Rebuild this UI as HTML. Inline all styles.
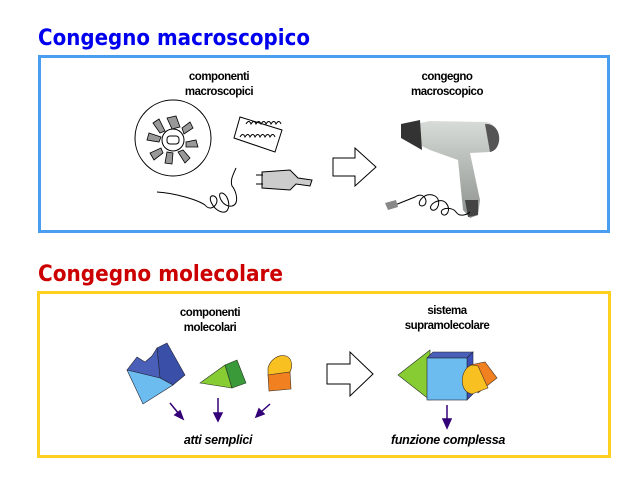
<!DOCTYPE html>
<html><head><meta charset="utf-8"><style>
html,body{margin:0;padding:0;background:#fff;}
svg{display:block;}
.t{font-family:"DejaVu Sans","Liberation Sans",sans-serif;font-size:22px;font-weight:bold;}
.l{font-family:"Liberation Sans",sans-serif;font-size:11.5px;font-weight:bold;text-anchor:middle;letter-spacing:-0.5px;}
.i{font-family:"Liberation Sans",sans-serif;font-size:12.5px;font-weight:bold;font-style:italic;text-anchor:middle;letter-spacing:-0.3px;}
</style></head><body>
<svg width="640" height="480" viewBox="0 0 640 480" xmlns="http://www.w3.org/2000/svg">
<text class="t" x="38" y="45" fill="#0000ee" textLength="272" lengthAdjust="spacingAndGlyphs">Congegno macroscopico</text>
<rect x="39.5" y="56.5" width="569" height="175" fill="none" stroke="#4a9ef0" stroke-width="3"/>
<text class="l" x="219" y="80">componenti</text>
<text class="l" x="219" y="95">macroscopici</text>
<text class="l" x="447" y="80">congegno</text>
<text class="l" x="447" y="95">macroscopico</text>
<!-- fan -->
<circle cx="173" cy="138" r="38" fill="#fff" stroke="#000" stroke-width="1"/>
<circle cx="173" cy="140" r="11" fill="#fff" stroke="#000"/>
<rect x="167" y="136" width="12" height="8" rx="3" fill="none" stroke="#000"/>
<g fill="#999" stroke="#000" stroke-width="0.8">
<polygon points="167,118 176,116 180,127 172,129"/>
<polygon points="190,122 193,128 184,134 182,128"/>
<polygon points="196,140 198,147 186,147 186,142"/>
<polygon points="190,158 185,163 178,152 183,150"/>
<polygon points="172,164 165,163 167,152 173,153"/>
<polygon points="154,160 150,153 161,148 163,153"/>
<polygon points="147,140 149,133 161,137 159,142"/>
<polygon points="153,123 159,119 165,131 160,133"/>
</g>
<!-- heater coil -->
<g fill="none" stroke="#000" stroke-width="1">
<polygon points="240,117 282,130 275,152 234,138"/>
<path d="M246,124 q3,-5 5,0 q3,-5 5,0 q3,-5 5,0 q3,-5 5,0 q3,-5 5,0 q3,-5 5,0 q3,-5 5,0"/>
<path d="M240,137 q3,-5 5,0 q3,-5 5,0 q3,-5 5,0 q3,-5 5,0 q3,-5 5,0 q3,-5 5,0 q3,-5 5,0"/>
<path d="M157,192 C175,193 198,200 205,205 C212,214 222,200 214,196 C206,194 212,210 222,212 C232,214 230,195 222,193 C216,192 222,208 232,206 C240,204 236,190 232,186 C230,180 233,175 236,168"/>
</g>
<!-- plug -->
<g stroke="#000" stroke-width="1">
<path d="M262,172 L290,170 L298,178 L312,180 L310,186 L296,184 L290,190 L262,188 Z" fill="#ccc"/>
<line x1="256" y1="175" x2="263" y2="175"/><line x1="256" y1="184" x2="263" y2="184"/>
</g>
<!-- hollow arrow 1 -->
<polygon points="333,158 355,158 355,148 376,167 355,186 355,176 333,176" fill="#fff" stroke="#000" stroke-width="1"/>
<!-- hair dryer -->
<defs><linearGradient id="g" x1="0" y1="0" x2="0" y2="1"><stop offset="0" stop-color="#d8dcd8"/><stop offset="1" stop-color="#8e928e"/></linearGradient></defs>
<path d="M405,126 L430,121 L485,122 C500,122 502,148 490,152 L470,153 L480,200 L478,215 L470,218 L463,210 L458,160 L430,150 L405,138 Z" fill="url(#g)"/>
<path d="M401,124 L420,120 L422,150 L401,138 Z" fill="#333"/>
<path d="M485,124 C503,123 503,150 490,152 Z" fill="#555"/>
<path d="M465,200 L478,200 L478,215 L468,217 Z" fill="#444"/>
<path d="M395,205 L415,197 C425,190 430,205 422,206 C414,205 425,190 435,196 C442,200 438,212 432,210 C426,206 440,196 446,203 C452,210 446,218 442,214 C438,208 452,206 456,212 C460,218 468,214 470,212" fill="none" stroke="#000" stroke-width="1"/>
<path d="M385,203 L396,200 L398,207 L388,210 Z" fill="#888"/>
<!-- section 2 -->
<text class="t" x="38" y="281" fill="#cc0000" textLength="245" lengthAdjust="spacingAndGlyphs">Congegno molecolare</text>
<rect x="38.5" y="292.5" width="571" height="164" fill="none" stroke="#ffd020" stroke-width="3"/>
<text class="l" x="210" y="316">componenti</text>
<text class="l" x="210" y="331">molecolari</text>
<text class="l" x="447" y="314">sistema</text>
<text class="l" x="447" y="329">supramolecolare</text>
<!-- blue block -->
<polygon points="157,348 167,343 185,375 173,385 160,378" fill="#3a4fa8" stroke="#223" stroke-width="0.6"/>
<polygon points="127,370 137,357 145,362 152,356 157,348 160,378" fill="#4a5fb8" stroke="#223" stroke-width="0.6"/>
<polygon points="127,370 160,378 173,385 143,404" fill="#6cbcf0" stroke="#223" stroke-width="0.6"/>
<!-- green prism -->
<polygon points="200,383 225,365 232,388" fill="#88cc33" stroke="#232" stroke-width="0.6"/>
<polygon points="225,365 237,360 246,383 232,388" fill="#3a9a3a" stroke="#232" stroke-width="0.6"/>
<!-- yellow piece -->
<path d="M268,368 C270,360 278,354 286,356 C292,358 293,366 290,372 L268,375 Z" fill="#f8c020" stroke="#432" stroke-width="0.6"/>
<path d="M268,375 L290,372 L291,389 L269,391 Z" fill="#f08020" stroke="#432" stroke-width="0.6"/>
<!-- arrows -->
<g stroke="#330077" stroke-width="1.5" fill="#330077">
<line x1="170" y1="403" x2="179" y2="414"/><polygon points="183,419 175,415 180,411"/>
<line x1="218" y1="398" x2="218" y2="414"/><polygon points="218,421 214,413 222,413"/>
<line x1="270" y1="404" x2="261" y2="412"/><polygon points="256,417 259,409 264,414"/>
<line x1="447" y1="405" x2="447" y2="421"/><polygon points="447,428 443,419 451,419"/>
</g>
<!-- hollow arrow 2 -->
<polygon points="327,364 350,364 350,352 373,374 350,396 350,384 327,384" fill="#fff" stroke="#000" stroke-width="1"/>
<!-- composite -->
<polygon points="398,375 430,350 430,400" fill="#88cc33" stroke="#232" stroke-width="0.6"/>
<polygon points="427,358 433,352 473,352 467,358" fill="#4a5fb8" stroke="#223" stroke-width="0.6"/>
<polygon points="467,358 473,352 473,394 467,400" fill="#3a4fb8" stroke="#223" stroke-width="0.6"/>
<rect x="427" y="358" width="40" height="42" fill="#6cbcf0" stroke="#223" stroke-width="0.6"/>
<path d="M470,365 L485,362 L497,378 L478,393 Z" fill="#f08020" stroke="#432" stroke-width="0.6"/>
<path d="M472,365 C460,368 458,392 472,394 L488,388 L478,366 Z" fill="#f8c020" stroke="#432" stroke-width="0.6"/>
<text class="i" x="218" y="444">atti semplici</text>
<text class="i" x="448" y="444">funzione complessa</text>
</svg>
</body></html>
